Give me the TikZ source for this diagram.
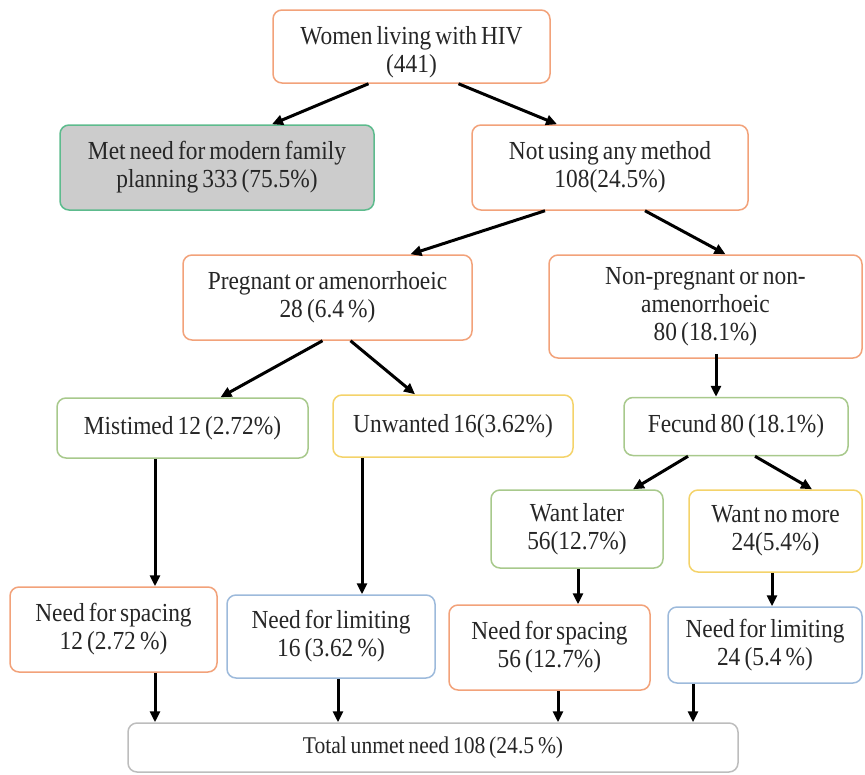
\documentclass[tikz,border=0pt]{standalone}
\usepackage{fontspec}
\setmainfont{Liberation Serif}[FakeStretch=0.9, WordSpace=0.7]
\usepackage{tikz}
\usetikzlibrary{arrows.meta, positioning, calc}

\definecolor{orgline}{HTML}{F2A27A}
\definecolor{grnline}{HTML}{A8C98C}
\definecolor{ylwline}{HTML}{F4D36A}
\definecolor{bluline}{HTML}{9DBADB}
\definecolor{tealine}{HTML}{5DBB8D}
\definecolor{gryline}{HTML}{BDBDBD}

\begin{document}
\begin{tikzpicture}[
  x=1pt, y=-1pt,
  box/.style={draw, rounded corners=9pt, line width=1.5pt, align=center,
              inner sep=1pt, text=black!85, font=\fontsize{26}{28}\selectfont},
  org/.style={box, draw=orgline},
  grn/.style={box, draw=grnline},
  ylw/.style={box, draw=ylwline},
  blu/.style={box, draw=bluline},
  met/.style={box, draw=tealine, fill=gray!40},
  tot/.style={box, draw=gryline, font=\fontsize{24}{28}\selectfont},
  arr/.style={-{Triangle[length=11pt,width=10pt]}, line width=3pt}
]
\useasboundingbox (0,0) rectangle (865,774);
% Top levels
\node[org, minimum width=277pt, minimum height=73pt] (top) at (411.5,46.5)
  {\rule{0pt}{30pt}Women living with HIV\\(441)};
\node[met, minimum width=314pt, minimum height=85pt] (metn) at (217,167.5)
  {Met need for modern family\\planning 333 (75.5\%)};
\node[org, minimum width=276pt, minimum height=85pt] (notu) at (610,167.5)
  {Not using any method\\108(24.5\%)};
\node[org, minimum width=289pt, minimum height=85pt] (preg) at (327.5,297.5)
  {Pregnant or amenorrhoeic\\28 (6.4 \%)};
\node[org, minimum width=313pt, minimum height=103pt] (nonp) at (705.5,306.5)
  {Non-pregnant or non-\\amenorrhoeic\\80 (18.1\%)};
% Middle row
\node[grn, minimum width=251pt, minimum height=60pt] (mist) at (182.5,428)
  {Mistimed 12 (2.72\%)};
\node[ylw, minimum width=240pt, minimum height=62pt] (unw) at (453,426)
  {Unwanted 16(3.62\%)};
\node[grn, minimum width=224pt, minimum height=58pt] (fec) at (736,426.5)
  {Fecund 80 (18.1\%)};
\node[grn, minimum width=172pt, minimum height=78pt] (later) at (577,529)
  {Want later\\56(12.7\%)};
\node[ylw, minimum width=173pt, minimum height=82pt] (nomore) at (775.5,531)
  {Want no more\\24(5.4\%)};
% Needs
\node[org, minimum width=207pt, minimum height=85pt] (spa) at (113.5,629.5)
  {Need for spacing\\12 (2.72 \%)};
\node[blu, minimum width=208pt, minimum height=83pt] (lima) at (331,636.5)
  {Need for limiting\\16 (3.62 \%)};
\node[org, minimum width=201pt, minimum height=85pt] (spb) at (549.5,647.5)
  {Need for spacing\\56 (12.7\%)};
\node[blu, minimum width=194pt, minimum height=76pt] (limb) at (765,645)
  {Need for limiting\\24 (5.4 \%)};
% Total
\node[tot, minimum width=610pt, minimum height=49pt] (tot) at (433,747.5)
  {Total unmet need 108 (24.5 \%)};
% Arrows
\draw[arr] ([xshift=-43pt]top.south) -- ([xshift=55pt]metn.north);
\draw[arr] ([xshift=47pt]top.south) -- ([xshift=-53pt]notu.north);
\draw[arr] ([xshift=-65pt]notu.south) -- ([xshift=83pt]preg.north);
\draw[arr] ([xshift=35pt]notu.south) -- ([xshift=20pt]nonp.north);
\draw[arr] ([xshift=-5pt]preg.south) -- ([xshift=38pt]mist.north);
\draw[arr] ([xshift=23pt]preg.south) -- ([xshift=-38pt]unw.north);
\draw[arr] ([xshift=10.5pt,yshift=5pt]nonp.south) coordinate (a1) -- (a1 |- fec.north);
\draw[arr] ([xshift=-48pt]fec.south) -- ([xshift=56pt]later.north);
\draw[arr] ([xshift=19pt]fec.south) -- ([xshift=36.5pt]nomore.north);
\draw[arr] ([xshift=-27.5pt]mist.south) coordinate (a2) -- (a2 |- spa.north);
\draw[arr] ([xshift=-91pt]unw.south) coordinate (a3) -- (a3 |- lima.north);
\draw[arr] ([xshift=1pt]later.south) coordinate (a4) -- (a4 |- spb.north);
\draw[arr] ([xshift=-3.5pt]nomore.south) coordinate (a5) -- (a5 |- limb.north);
\draw[arr] ([xshift=41.5pt]spa.south) coordinate (a6) -- (a6 |- tot.north);
\draw[arr] ([xshift=7pt]lima.south) coordinate (a7) -- (a7 |- tot.north);
\draw[arr] ([xshift=8.5pt]spb.south) coordinate (a8) -- (a8 |- tot.north);
\draw[arr] ([xshift=-72pt]limb.south) coordinate (a9) -- (a9 |- tot.north);
\end{tikzpicture}
\end{document}
